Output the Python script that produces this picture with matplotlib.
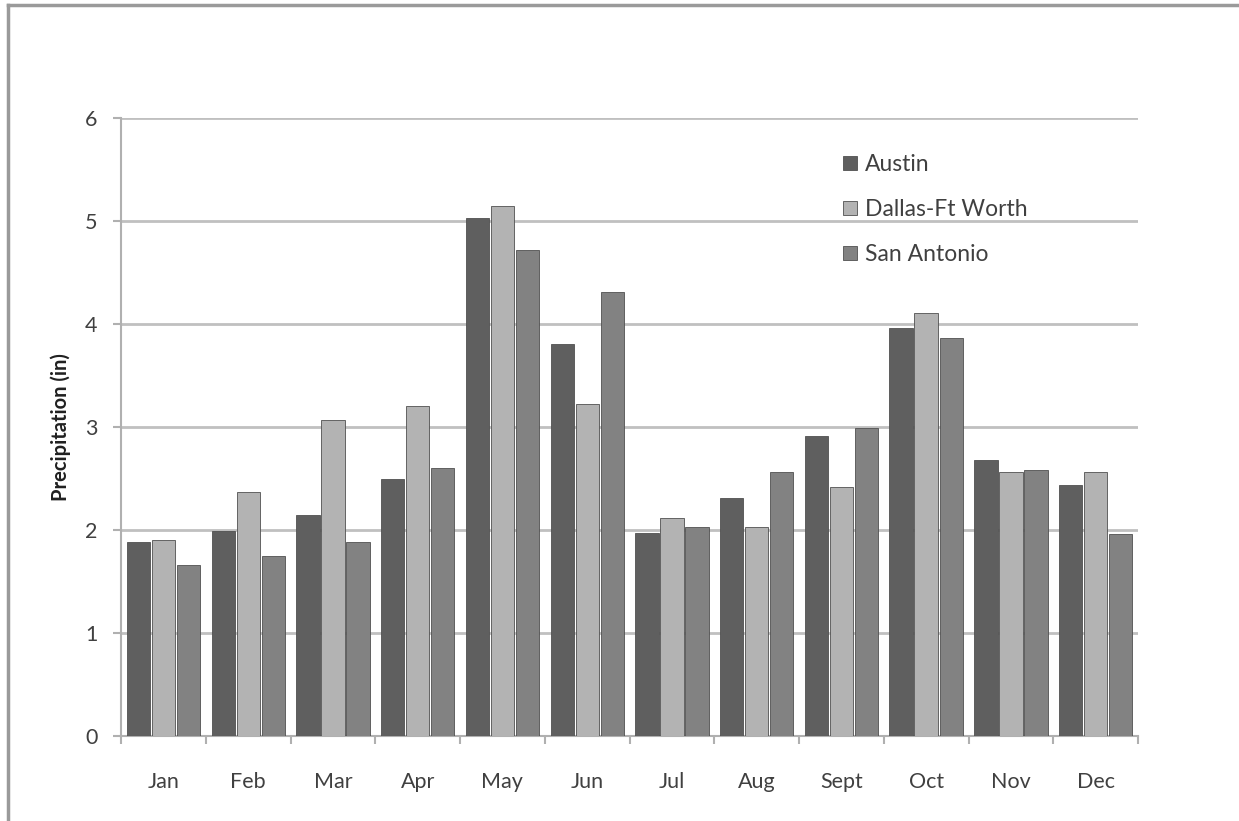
import numpy as np
import matplotlib
matplotlib.use("Agg")
import matplotlib.pyplot as plt
from matplotlib.lines import Line2D

plt.rcParams['font.family'] = ['Lato', 'DejaVu Sans']

months = ["Jan", "Feb", "Mar", "Apr", "May", "Jun", "Jul", "Aug", "Sept", "Oct", "Nov", "Dec"]
austin = [1.88, 1.99, 2.15, 2.50, 5.03, 3.81, 1.97, 2.31, 2.91, 3.96, 2.68, 2.44]
dallas = [1.90, 2.37, 3.07, 3.20, 5.15, 3.22, 2.12, 2.03, 2.42, 4.11, 2.56, 2.56]
san_antonio = [1.66, 1.75, 1.88, 2.60, 4.72, 4.31, 2.03, 2.56, 2.99, 3.86, 2.58, 1.96]

series = [("Austin", austin, "#5f5f5f"),
          ("Dallas-Ft Worth", dallas, "#b3b3b3"),
          ("San Antonio", san_antonio, "#828282")]

fig = plt.figure(figsize=(12.39, 8.21), dpi=100)
ax = fig.add_axes([0.0977, 0.1035, 0.8208, 0.7528])

x = np.arange(len(months))
step = 0.295
for i, (name, vals, col) in enumerate(series):
    ax.bar(x + (i - 1) * step, vals, width=0.275, color=col, edgecolor="#505050",
           linewidth=0.6, label=name, zorder=3)

ax.set_xlim(-0.5, 11.5)
ax.set_ylim(0, 6)
ax.set_yticks(range(7))
ax.yaxis.grid(True, color="#c0c0c0", linewidth=2, zorder=0)
ax.set_axisbelow(True)

ax.set_xticks(x)
ax.set_xticklabels(months)
ax.set_xticks(np.arange(-0.5, 12, 1), minor=True)
ax.tick_params(axis="x", which="major", length=0, pad=26, labelsize=15.5, labelcolor="#404040")
ax.tick_params(axis="x", which="minor", length=6, width=1.5, color="#b0b0b0", direction="out")
ax.tick_params(axis="y", length=6, width=1.5, color="#b0b0b0", pad=11, labelsize=15.5, labelcolor="#404040")

for s in ["top", "right"]:
    ax.spines[s].set_visible(False)
for s in ["left", "bottom"]:
    ax.spines[s].set_color("#b0b0b0")
    ax.spines[s].set_linewidth(1.5)

ax.set_ylabel("Precipitation (in)", fontsize=14.5, fontweight="bold", color="#202020", labelpad=10)

ax.legend(loc="upper left", bbox_to_anchor=(0.69, 0.975), frameon=False, fontsize=16.5,
          handlelength=0.6, handleheight=0.6, handletextpad=0.35, labelspacing=1.05,
          labelcolor="#404040")

# outer chart frame
fig.add_artist(Line2D([0.0065, 0.0065], [0, 0.994], transform=fig.transFigure, color="#9a9a9a", linewidth=2.5))
fig.add_artist(Line2D([0.0065, 1.0], [0.994, 0.994], transform=fig.transFigure, color="#9a9a9a", linewidth=2.5))

fig.savefig("out.png", dpi=100)
